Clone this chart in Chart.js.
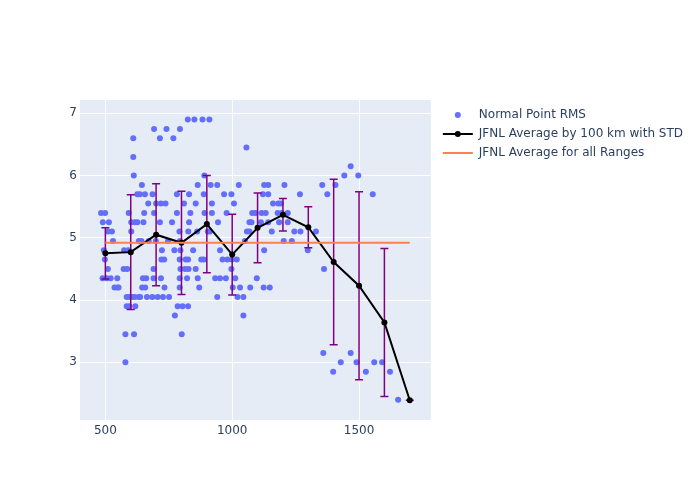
<!DOCTYPE html>
<html>
<head>
<meta charset="utf-8">
<script src="https://cdn.jsdelivr.net/npm/chart.js@4.4.1/dist/chart.umd.min.js"></script>
<style>
  body { margin: 0; background: #fff; }
</style>
</head>
<body>
<canvas id="rmsChart" width="700" height="500"></canvas>
<script>
// Normal point RMS, grouped by RMS level (ranges in km)
const npLevels = [6.9, 6.75, 6.6, 6.45, 6.3, 6.15, 6.0, 5.85, 5.7, 5.55, 5.4, 5.25, 5.1,
  4.95, 4.8, 4.65, 4.5, 4.35, 4.2, 4.05, 3.9, 3.75, 3.45, 3.15, 3.0, 2.85, 2.4];
const npRanges = [
  [825, 851, 883, 910],
  [692, 741, 794],
  [610, 715, 768],
  [1056],
  [610],
  [1467],
  [612, 890, 1442, 1497],
  [644, 864, 915, 941, 1026, 1126, 1142, 1206, 1355, 1407],
  [626, 636, 656, 686, 782, 830, 888, 968, 997, 1121, 1142, 1267, 1375, 1554],
  [669, 700, 719, 737, 810, 856, 920, 1007, 1161, 1182, 1192],
  [483, 499, 592, 653, 692, 782, 835, 891, 920, 978, 1079, 1092, 1116, 1132, 1179, 1195, 1219],
  [490, 514, 602, 616, 626, 650, 715, 763, 830, 944, 1068, 1076, 1113, 1142, 1185, 1219],
  [510, 526, 602, 792, 827, 862, 904, 912, 1058, 1068, 1156, 1245, 1269, 1330],
  [530, 632, 642, 671, 699, 747, 794, 1050, 1203, 1235],
  [494, 574, 590, 723, 772, 796, 846, 952, 1126, 1298],
  [498, 721, 732, 793, 817, 826, 878, 888, 962, 981, 999, 1018],
  [510, 572, 586, 690, 796, 814, 828, 856, 997, 1362],
  [489, 505, 521, 547, 648, 661, 690, 719, 793, 822, 864, 933, 952, 975, 1012, 1097],
  [536, 547, 552, 645, 657, 733, 793, 870, 1002, 1031, 1071, 1124, 1148],
  [584, 595, 605, 616, 632, 637, 664, 685, 706, 727, 751, 941, 1021, 1044],
  [584, 595, 618, 785, 804, 826],
  [774, 1044],
  [579, 613, 801],
  [1359, 1467],
  [579, 1428, 1490, 1560, 1591],
  [1398, 1527, 1622],
  [1654]
];

// JFNL average by 100 km bin, with standard deviation
const avgRange = [500, 600, 700, 800, 900, 1000, 1100, 1200, 1300, 1400, 1500, 1600, 1700];
const avgRms = [4.75, 4.77, 5.05, 4.92, 5.22, 4.73, 5.16, 5.37, 5.17, 4.61, 4.23, 3.64, 2.39];
const avgStd = [0.41, 0.92, 0.82, 0.83, 0.78, 0.65, 0.56, 0.26, 0.33, 1.33, 1.51, 1.19, 0];

// JFNL average for all ranges
const allRange = [500, 1700];
const allRms = 4.92;

// Axes
const xTicks = [500, 1000, 1500];
const yTicks = [3, 4, 5, 6, 7];

const labels = ['Normal Point RMS', 'JFNL Average by 100 km with STD', 'JFNL Average for all Ranges'];

// Build datasets
const npData = [];
npLevels.forEach((lvl, i) => {
  npRanges[i].forEach(r => npData.push({ x: r, y: lvl }));
});
const avgData = avgRange.map((r, i) => ({ x: r, y: avgRms[i] }));
const allData = allRange.map(r => ({ x: r, y: allRms }));

Chart.defaults.font.family = 'DejaVu Sans';
Chart.defaults.font.size = 12;
Chart.defaults.color = '#2a3f5f';

// Plot background
const plotBg = {
  id: 'plotBg',
  beforeDraw(chart) {
    const { ctx, chartArea: a } = chart;
    ctx.save();
    ctx.fillStyle = '#fff';
    ctx.fillRect(0, 0, chart.width, chart.height);
    ctx.fillStyle = '#E5ECF6';
    ctx.fillRect(a.left, a.top, a.right - a.left, a.bottom - a.top);
    ctx.restore();
  }
};

// Error bars drawn right after the scatter layer
const errorBars = {
  id: 'errorBars',
  afterDatasetDraw(chart, args) {
    if (args.index !== 0) return;
    const { ctx, scales: { x, y } } = chart;
    ctx.save();
    ctx.strokeStyle = 'purple';
    ctx.lineWidth = 1.5;
    avgRange.forEach((r, i) => {
      const px = x.getPixelForValue(r);
      const top = y.getPixelForValue(avgRms[i] + avgStd[i]);
      const bot = y.getPixelForValue(avgRms[i] - avgStd[i]);
      ctx.beginPath();
      ctx.moveTo(px, top);
      ctx.lineTo(px, bot);
      ctx.moveTo(px - 4, top);
      ctx.lineTo(px + 4, top);
      ctx.moveTo(px - 4, bot);
      ctx.lineTo(px + 4, bot);
      ctx.stroke();
    });
    ctx.restore();
  }
};

// Nudge legend and add marker symbols
const legendFix = {
  id: 'legendFix',
  afterLayout(chart) {
    const lg = chart.legend;
    lg.left += 5; lg.right += 5;
    lg.top += 2; lg.bottom += 2;
  },
  afterDraw(chart) {
    const lg = chart.legend;
    const { ctx } = chart;
    const boxes = lg.legendHitBoxes;
    ctx.save();
    [0, 1].forEach(i => {
      const hb = boxes[i];
      const cx = hb.left + 15;
      const cy = hb.top + 6;
      ctx.fillStyle = i === 0 ? '#636EFA' : '#000';
      ctx.beginPath();
      ctx.arc(cx, cy, 3, 0, Math.PI * 2);
      ctx.fill();
    });
    ctx.restore();
  }
};

new Chart(document.getElementById('rmsChart'), {
  type: 'scatter',
  data: {
    datasets: [
      {
        label: labels[0],
        data: npData,
        backgroundColor: '#636EFA',
        borderWidth: 0,
        pointRadius: 3,
        order: 3
      },
      {
        type: 'line',
        label: labels[1],
        data: avgData,
        borderColor: '#000',
        backgroundColor: '#000',
        borderWidth: 2,
        pointRadius: 3,
        pointBorderWidth: 0,
        fill: false,
        tension: 0,
        order: 2
      },
      {
        type: 'line',
        label: labels[2],
        data: allData,
        borderColor: '#FF7F50',
        borderWidth: 2,
        pointRadius: 0,
        fill: false,
        order: 1
      }
    ]
  },
  options: {
    responsive: false,
    animation: false,
    layout: { padding: { left: 0, top: 100, right: 12, bottom: 0 } },
    plugins: {
      tooltip: { enabled: false },
      legend: {
        position: 'right',
        align: 'start',
        maxWidth: 300,
        labels: {
          boxWidth: 30,
          boxHeight: 2,
          padding: 7,
          color: '#2a3f5f',
          font: { family: 'DejaVu Sans', size: 12 },
          generateLabels: chart => chart.data.datasets.map((ds, i) => ({
            text: ds.label,
            fillStyle: i === 0 ? 'rgba(0,0,0,0)' : ds.borderColor,
            strokeStyle: 'rgba(0,0,0,0)',
            lineWidth: 0,
            hidden: false,
            datasetIndex: i,
            fontColor: '#2a3f5f'
          }))
        }
      }
    },
    scales: {
      x: {
        type: 'linear',
        min: 400,
        max: 1783,
        afterBuildTicks: s => { s.ticks = xTicks.map(v => ({ value: v })); },
        afterFit: s => { s.height = 80; },
        grid: { color: '#fff', lineWidth: 1, drawTicks: false },
        border: { display: false },
        ticks: { padding: 4, color: '#2a3f5f', maxRotation: 0, callback: v => String(v) }
      },
      y: {
        type: 'linear',
        min: 2.073,
        max: 7.214,
        afterBuildTicks: s => { s.ticks = yTicks.map(v => ({ value: v })); },
        afterFit: s => { s.width = 80; },
        grid: { color: '#fff', lineWidth: 1, drawTicks: false },
        border: { display: false },
        ticks: { padding: 3, color: '#2a3f5f', callback: v => String(v) }
      }
    }
  },
  plugins: [plotBg, errorBars, legendFix]
});
</script>
</body>
</html>
